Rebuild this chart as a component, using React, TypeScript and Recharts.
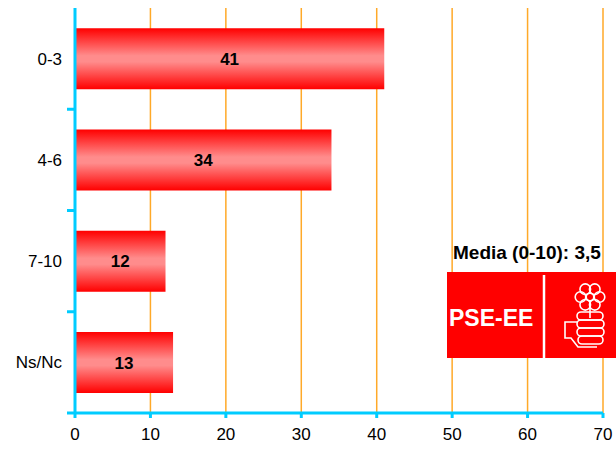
import { Bar, BarChart, CartesianGrid, LabelList, XAxis, YAxis } from "recharts";

const categories = ["0-3", "4-6", "7-10", "Ns/Nc"];
const values = [41, 34, 12, 13];
const xTicks = [0, 10, 20, 30, 40, 50, 60, 70];
const mediaText = "Media (0-10): 3,5";
const logoText = "PSE-EE";

const data = categories.map((name, i) => ({ name, value: values[i] }));

const AXIS = "#00CCFF";
const GRID = "#FFA928";

function CategoryTick(props: any) {
  const { x, y, payload } = props;
  const half = payload.offset || 0;
  return (
    <g>
      <text x={x - 5} y={y} dy={6} textAnchor="end" fontSize={17} fill="#000">
        {payload.value}
      </text>
      <line x1={x} x2={x + 8} y1={y + half} y2={y + half} stroke={AXIS} strokeWidth={3} />
    </g>
  );
}

function Logo() {
  const petals = [0, 60, 120, 180, 240, 300].map((a) => ({
    cx: 143 + 9.5 * Math.cos((a * Math.PI) / 180),
    cy: 25 + 9 * Math.sin((a * Math.PI) / 180),
  }));
  return (
    <svg width={170} height={86} style={{ position: "absolute", left: 447, top: 272 }}>
      <rect x={0} y={0} width={170} height={86} fill="#FF0000" />
      <text x={2} y={54} fill="#fff" fontSize={23} fontWeight="bold" fontFamily="Liberation Sans, Arial, sans-serif">
        {logoText}
      </text>
      <line x1={97} x2={97} y1={3} y2={86} stroke="#fff" strokeWidth={2.5} />
      <g fill="none" stroke="#fff" strokeWidth={1.6}>
        {petals.map((p, i) => (
          <circle key={i} cx={p.cx} cy={p.cy} r={5.3} />
        ))}
        <circle cx={143} cy={25} r={3.8} />
        <path d="M143 35 L143 46" />
        <rect x={130} y={40} width={26} height={8} rx={4} />
        <rect x={130} y={48} width={27} height={8} rx={4} />
        <rect x={130} y={56} width={27} height={8} rx={4} />
        <rect x={131} y={64} width={25} height={8} rx={4} />
        <path d="M130 50 L118 50 L118 66 L124 66 L131 75 L150 75" />
      </g>
    </svg>
  );
}

export default function App() {
  return (
    <div style={{ position: "absolute", left: 0, top: 0, width: 616, height: 452, background: "#fff", fontFamily: "Liberation Sans, Arial, sans-serif" }}>
      <BarChart
        width={616}
        height={452}
        data={data}
        layout="vertical"
        barCategoryGap="20%"
        margin={{ top: 8, right: 13, left: 8, bottom: 9 }}
      >
        <defs>
          <linearGradient id="barFill" x1="0" y1="0" x2="0" y2="1">
            <stop offset="0%" stopColor="#FF0000" />
            <stop offset="45%" stopColor="#FF8C8C" />
            <stop offset="55%" stopColor="#FF8C8C" />
            <stop offset="100%" stopColor="#FF0000" />
          </linearGradient>
        </defs>
        <CartesianGrid horizontal={false} stroke={GRID} strokeWidth={1.5} />
        <XAxis
          type="number"
          domain={[0, 70]}
          ticks={xTicks}
          interval={0}
          height={30}
          axisLine={{ stroke: AXIS, strokeWidth: 3 }}
          tickLine={{ stroke: AXIS, strokeWidth: 3 }}
          tickSize={5}
          tick={{ fill: "#000", fontSize: 17 }}
          tickMargin={10}
        />
        <YAxis
          type="category"
          dataKey="name"
          width={67}
          axisLine={{ stroke: AXIS, strokeWidth: 3 }}
          tickLine={false}
          tick={<CategoryTick />}
        />
        <Bar dataKey="value" fill="url(#barFill)" isAnimationActive={false}>
          <LabelList dataKey="value" position="center" fill="#000" fontSize={17} fontWeight="bold" />
        </Bar>
      </BarChart>
      <div style={{ position: "absolute", left: 453, top: 242, fontSize: 19, fontWeight: "bold", color: "#000" }}>
        {mediaText}
      </div>
      <Logo />
    </div>
  );
}
